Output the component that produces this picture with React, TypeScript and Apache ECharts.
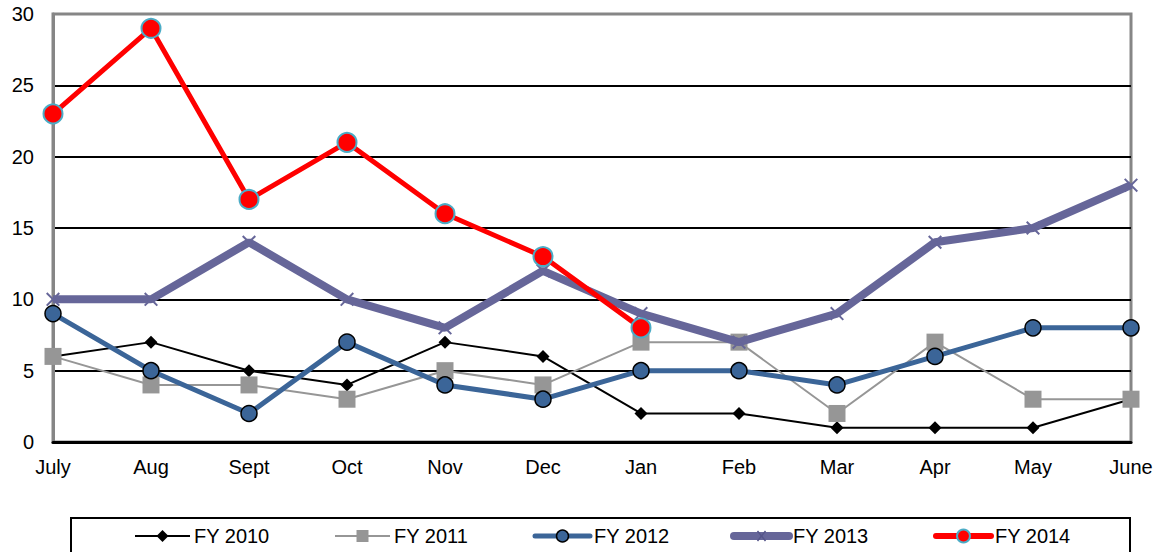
import React, { useEffect, useRef } from "react";
import * as echarts from "echarts";

const months = ["July", "Aug", "Sept", "Oct", "Nov", "Dec", "Jan", "Feb", "Mar", "Apr", "May", "June"];
const seriesNames = ["FY 2010", "FY 2011", "FY 2012", "FY 2013", "FY 2014"];
const fy2010 = [6, 7, 5, 4, 7, 6, 2, 2, 1, 1, 1, 3];
const fy2011 = [6, 4, 4, 3, 5, 4, 7, 7, 2, 7, 3, 3];
const fy2012 = [9, 5, 2, 7, 4, 3, 5, 5, 4, 6, 8, 8];
const fy2013 = [10, 10, 14, 10, 8, 12, 9, 7, 9, 14, 15, 18];
const fy2014 = [23, 29, 17, 21, 16, 13, 8, null, null, null, null, null];

const FONT = "Liberation Sans, Arial, sans-serif";
const X_SYMBOL = "path://M0,1L1,0L5,4L9,0L10,1L6,5L10,9L9,10L5,6L1,10L0,9L4,5Z";

const GRAY_FRAME = "#868686";
const C2010 = "#000000";
const C2011 = "#969696";
const C2012 = "#3B6598";
const C2013 = "#666699";
const C2014 = "#FF0000";

function legendGraphics() {
  const els: any[] = [];
  const y = 536;
  const starts = [135, 335, 535, 734, 936];
  const lineLen = 55;
  const styles = [
    { color: C2010, width: 2 },
    { color: C2011, width: 2 },
    { color: C2012, width: 5 },
    { color: C2013, width: 8 },
    { color: C2014, width: 6 },
  ];
  seriesNames.forEach((name, i) => {
    const x0 = starts[i];
    const cx = x0 + lineLen / 2;
    els.push({
      type: "line",
      shape: { x1: x0, y1: y, x2: x0 + lineLen, y2: y },
      style: { stroke: styles[i].color, lineWidth: styles[i].width, lineCap: i >= 2 ? "round" : "butt" },
      silent: true,
      z: 10,
    });
    if (i === 0) {
      els.push({
        type: "polygon",
        shape: { points: [[cx, y - 6], [cx + 6, y], [cx, y + 6], [cx - 6, y]] },
        style: { fill: C2010 },
        silent: true,
        z: 11,
      });
    } else if (i === 1) {
      els.push({
        type: "rect",
        shape: { x: cx - 6, y: y - 6, width: 12, height: 12 },
        style: { fill: C2011 },
        silent: true,
        z: 11,
      });
    } else if (i === 2) {
      els.push({
        type: "circle",
        shape: { cx, cy: y, r: 6 },
        style: { fill: C2012, stroke: "#000", lineWidth: 1.5 },
        silent: true,
        z: 11,
      });
    } else if (i === 3) {
      els.push({
        type: "line",
        shape: { x1: cx - 4, y1: y - 5, x2: cx + 4, y2: y + 5 },
        style: { stroke: "#55558a", lineWidth: 1.5 },
        silent: true,
        z: 11,
      });
      els.push({
        type: "line",
        shape: { x1: cx + 4, y1: y - 5, x2: cx - 4, y2: y + 5 },
        style: { stroke: "#55558a", lineWidth: 1.5 },
        silent: true,
        z: 11,
      });
    } else {
      els.push({
        type: "circle",
        shape: { cx, cy: y, r: 6.5 },
        style: { fill: C2014, stroke: "#4BACC6", lineWidth: 2 },
        silent: true,
        z: 11,
      });
    }
    els.push({
      type: "text",
      x: x0 + lineLen + 4,
      y,
      style: {
        text: name,
        fill: "#000",
        font: `20px ${FONT}`,
        textVerticalAlign: "middle",
        verticalAlign: "middle",
      },
      silent: true,
      z: 11,
    });
  });
  els.push({
    type: "rect",
    shape: { x: 71, y: 518, width: 1059, height: 60 },
    style: { fill: "none", stroke: "#000", lineWidth: 2 },
    silent: true,
    z: 9,
  });
  return els;
}

export default function App() {
  const ref = useRef<HTMLDivElement>(null);
  useEffect(() => {
    const chart = echarts.init(ref.current!, null, { renderer: "svg" });
    chart.setOption({
      animation: false,
      backgroundColor: "#ffffff",
      textStyle: { fontFamily: FONT },
      grid: {
        left: 53,
        right: 28,
        top: 14,
        bottom: 110,
        show: true,
        borderColor: GRAY_FRAME,
        borderWidth: 3,
      },
      xAxis: {
        type: "category",
        data: months,
        boundaryGap: false,
        axisLine: { lineStyle: { color: "#000", width: 3 } },
        axisTick: { show: false },
        axisLabel: { color: "#000", fontSize: 20, margin: 15, fontFamily: FONT },
        splitLine: { show: false },
      },
      yAxis: {
        type: "value",
        min: 0,
        max: 30,
        interval: 5,
        axisLine: { show: true, lineStyle: { color: GRAY_FRAME, width: 3 } },
        axisTick: { show: false },
        axisLabel: { color: "#000", fontSize: 20, margin: 19, fontFamily: FONT },
        splitLine: {
          lineStyle: {
            color: ["#000", "#000", "#000", "#000", "#000", "#000", GRAY_FRAME],
            width: 2,
          },
        },
      },
      graphic: legendGraphics(),
      series: [
        {
          name: seriesNames[0],
          type: "line",
          data: fy2010,
          symbol: "diamond",
          symbolSize: 13,
          lineStyle: { color: C2010, width: 2 },
          itemStyle: { color: C2010 },
          z: 2,
        },
        {
          name: seriesNames[1],
          type: "line",
          data: fy2011,
          symbol: "rect",
          symbolSize: 17,
          lineStyle: { color: C2011, width: 2 },
          itemStyle: { color: C2011 },
          z: 3,
        },
        {
          name: seriesNames[2],
          type: "line",
          data: fy2012,
          symbol: "circle",
          symbolSize: 16,
          lineStyle: { color: C2012, width: 5 },
          itemStyle: { color: C2012, borderColor: "#000", borderWidth: 1.5 },
          z: 4,
        },
        {
          name: seriesNames[3],
          type: "line",
          data: fy2013,
          symbol: X_SYMBOL,
          symbolSize: 14,
          lineStyle: { color: C2013, width: 8 },
          itemStyle: { color: C2013 },
          z: 5,
        },
        {
          name: seriesNames[4],
          type: "line",
          data: fy2014,
          symbol: "circle",
          symbolSize: 19,
          lineStyle: { color: C2014, width: 5 },
          itemStyle: { color: C2014, borderColor: "#4BACC6", borderWidth: 2 },
          z: 6,
        },
      ],
    });
    return () => chart.dispose();
  }, []);
  return (
    <div
      ref={ref}
      style={{ position: "fixed", left: 0, top: 0, width: 1159, height: 552, background: "#fff" }}
    />
  );
}
